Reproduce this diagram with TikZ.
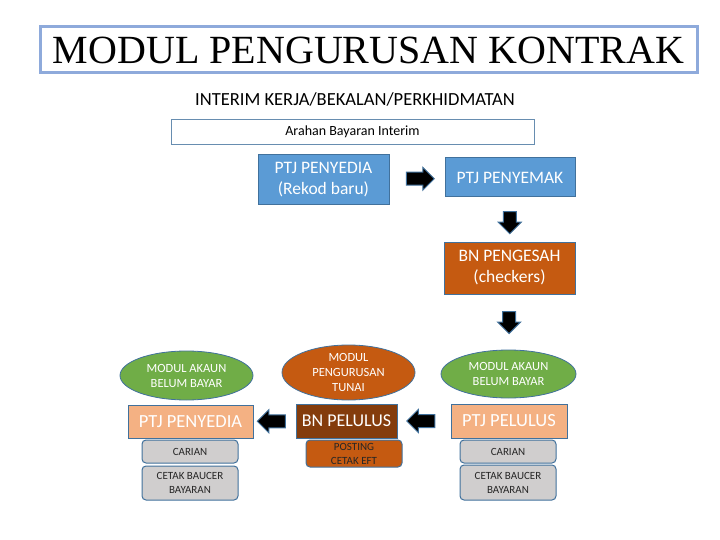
\documentclass[tikz,border=0pt]{standalone}
\usepackage{fontspec}
\setmainfont{Carlito}
\newfontfamily\judulfont{Liberation Serif}
\usetikzlibrary{shapes.geometric,shapes.arrows,calc}
\definecolor{garis}{HTML}{41719C}
\definecolor{bingkai}{HTML}{8EAADB}
\definecolor{biru}{HTML}{5B9BD5}
\definecolor{oren}{HTML}{C55A11}
\definecolor{salmon}{HTML}{F4B183}
\definecolor{perang}{HTML}{843C0C}
\definecolor{hijau}{HTML}{70AD47}
\definecolor{kelabu}{HTML}{D0CECE}
\definecolor{gelap}{HTML}{262626}
\begin{document}
\begin{tikzpicture}[x=1pt,y=-1pt,
  kotak/.style={draw=garis,line width=1pt,fill=#1,text=white,align=center,inner sep=0pt},
  bujur/.style={ellipse,draw=garis,line width=.8pt,fill=#1,text=white,align=center,inner sep=0pt,font=\fontsize{12.5}{15}\selectfont},
  kecil/.style={draw=garis,line width=1pt,rounded corners=4pt,fill=#1,text=gelap,align=center,inner sep=0pt,minimum width=96,font=\fontsize{11}{14}\selectfont},
  panah/.style={single arrow,draw=garis,line width=1pt,fill=black,minimum height=28,inner sep=6pt,single arrow head extend=5pt,single arrow head indent=0pt,shape border rotate=#1}]
\useasboundingbox (0,0) rectangle (720,540);
\node[draw=bingkai,line width=3pt,minimum width=657,minimum height=46,inner sep=0pt,font=\judulfont\fontsize{40}{40}\selectfont] (judul) at (368.5,50) {MODUL PENGURUSAN KONTRAK};
\node[font=\fontsize{18.5}{20}\selectfont] (jenis) at (355,99) {INTERIM KERJA/BEKALAN/PERKHIDMATAN};
\node[draw=garis!80,line width=.8pt,minimum width=363,minimum height=25,inner sep=0pt,font=\fontsize{14}{16}\selectfont] (arahan) at (352.5,131.5) {Arahan Bayaran Interim};

\node[kotak=biru,minimum width=131,minimum height=50,font=\fontsize{17.5}{21}\selectfont] (rekod) at (323.5,180) {PTJ PENYEDIA\\(Rekod baru)};
\node[kotak=biru,minimum width=130,minimum height=39,font=\fontsize{17.5}{21}\selectfont] (semak) at (510,177.5) {PTJ PENYEMAK};
\node[kotak=oren,minimum width=131,minimum height=52,font=\fontsize{17.5}{21}\selectfont] (sah) at (509.5,268) {BN PENGESAH\\(checkers)};

\node[bujur=hijau,minimum width=133,minimum height=49] (akaun1) at (186.5,375.5) {MODUL AKAUN\\BELUM BAYAR};
\node[bujur=oren,minimum width=133,minimum height=55] (tunai) at (348.5,372.5) {MODUL\\PENGURUSAN\\TUNAI};
\node[bujur=hijau,minimum width=135,minimum height=48] (akaun2) at (508.5,374) {MODUL AKAUN\\BELUM BAYAR};

\node[kotak=salmon,minimum width=125,minimum height=33,font=\fontsize{18.5}{21}\selectfont] (penyedia) at (190.5,421.5) {PTJ PENYEDIA};
\node[kotak=perang,minimum width=101,minimum height=34,font=\fontsize{18}{21}\selectfont] (bnlulus) at (346.5,421) {BN PELULUS};
\node[kotak=salmon,minimum width=116,minimum height=34,font=\fontsize{18.5}{21}\selectfont] (ptjlulus) at (509,421) {PTJ PELULUS};

\node[kecil=kelabu,minimum height=23] (carian1) at (190,451.5) {CARIAN};
\node[kecil=kelabu,minimum height=34] (cetak1) at (190,483) {CETAK BAUCER\\BAYARAN};
\node[kecil=oren,minimum height=27] (posting) at (354,453.5) {POSTING\\CETAK EFT};
\node[kecil=kelabu,minimum height=23] (carian2) at (508,451.5) {CARIAN};
\node[kecil=kelabu,minimum height=35] (cetak2) at (508,482.5) {CETAK BAUCER\\BAYARAN};

\node[panah=0] at ($(rekod.east)!.5!(semak.west)$) {};
\node[panah=270,minimum height=22] at ($(semak.south)!.5!(sah.north)$) {};
\node[panah=270,minimum height=22] at ($(sah.south)!.45!(akaun2.north)$) {};
\node[panah=180] at ($(bnlulus.west)!.5!(penyedia.east)$) {};
\node[panah=180] at ($(ptjlulus.west)!.5!(bnlulus.east)$) {};
\end{tikzpicture}
\end{document}
